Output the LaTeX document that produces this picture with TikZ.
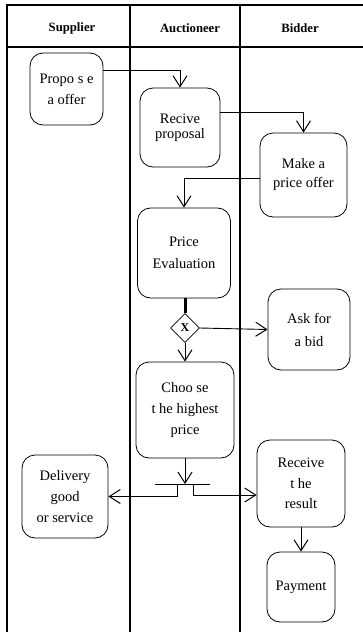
\documentclass[tikz,border=0pt]{standalone}
\usepackage{fontspec}
\setmainfont{Liberation Serif}
\usetikzlibrary{arrows.meta,shapes.geometric}
\begin{document}
\begin{tikzpicture}[x=1pt,y=-1pt,
  lane/.style={line width=1.1pt},
  hdr/.style={font=\bfseries\fontsize{12.7}{15}\selectfont},
  act/.style={draw, line width=0.8pt, rounded corners=13pt, align=center, inner sep=0pt,
              font=\fontsize{14.5}{21}\selectfont},
  flow/.style={line width=0.9pt, -{Straight Barb[length=11pt,width=14pt,line width=1pt]}},
  plain/.style={line width=0.9pt},
  gate/.style={draw, diamond, line width=0.8pt, inner sep=0pt, minimum width=29pt, minimum height=29pt,
               font=\bfseries\fontsize{12}{12}\selectfont}
]
\useasboundingbox (0,0) rectangle (363,632);
\fill[white] (0,0) rectangle (363,632);

% swimlane frame
\draw[lane] (363,5) -- (7,5) -- (7,632);
\draw[lane] (7,47) -- (363,47);
\draw[lane] (130,5) -- (130,632);
\draw[lane] (240,5) -- (240,632);

% lane titles
\node[hdr] (hsup) at (72,28) {Supplier};
\node[hdr] (hauc) at (190,28) {Auctioneer};
\node[hdr] (hbid) at (300,28) {Bidder};

% activities
\node[act, minimum width=73pt, minimum height=72pt] (propose) at (66.5,89) {Propo s e\\a offer};
\node[act, minimum width=80pt, minimum height=79pt, font=\fontsize{14.5}{15.5}\selectfont] (recive) at (180,127.5) {Recive\\proposal};
\node[act, minimum width=87pt, minimum height=84pt, font=\fontsize{14.5}{19}\selectfont] (make) at (303.5,175) {Make a\\price offer};
\node[act, minimum width=93pt, minimum height=90pt, font=\fontsize{14.5}{22}\selectfont] (eval) at (184,253) {Price\\Evaluation};
\node[gate] (dia) at (185,328) {X};
\node[act, minimum width=82pt, minimum height=81pt, font=\fontsize{14.5}{23}\selectfont] (ask) at (309,329.5) {Ask for\\a bid};
\node[act, minimum width=98pt, minimum height=96pt] (choose) at (185,410) {Choo se\\t he highest\\price};
\node[act, minimum width=86pt, minimum height=83pt] (delivery) at (65,496.5) {Delivery\\good\\or service};
\node[act, minimum width=88pt, minimum height=87pt, font=\fontsize{14.5}{20.5}\selectfont] (receive) at (301,483.5) {Receive\\t he\\result};
\node[act, minimum width=68pt, minimum height=70pt] (payment) at (301,587) {Payment};

% fork bar
\coordinate (forkL) at (155,484);
\coordinate (forkR) at (210,484);
\coordinate (fork) at (185,484);
\coordinate (stubL) at (177,484);
\coordinate (stubR) at (193,484);

% control flow
\draw[flow] ([yshift=19pt]propose.east) -| (recive.north);
\draw[flow] ([yshift=15.5pt]recive.east) -| (make.north);
\draw[flow] ([yshift=-3pt]make.west) -| (eval.north);
\draw[line width=3pt] (eval.south -| dia.north) -- (dia.north);
\draw[flow] (dia.east) -- (ask.west);
\draw[flow] (dia.south) -- (choose.north);
\draw[flow] (choose.south) -- (fork);
\draw[plain] (forkL) -- (forkR);
\draw[flow] (stubL) |- (delivery.east);
\draw[flow] (stubR) |- ([yshift=-11.5pt]receive.west);
\draw[flow] (receive.south) -- (payment.north);
\end{tikzpicture}
\end{document}
